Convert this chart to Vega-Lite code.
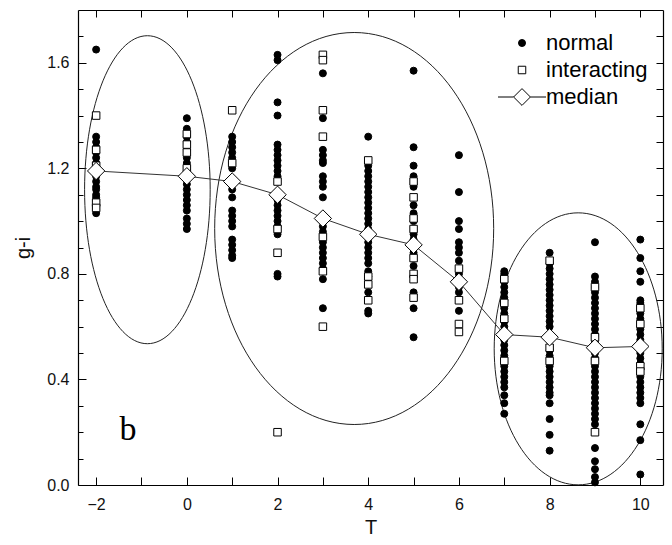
{
  "$schema": "https://vega.github.io/schema/vega-lite/v6.json",
  "width": 585,
  "height": 475,
  "autosize": {"type": "none"},
  "padding": {"left": 78, "top": 10, "right": 9, "bottom": 60},
  "background": "white",
  "config": {
    "view": {"stroke": null},
    "font": "Liberation Sans",
    "axis": {"grid": false, "domainColor": "black", "tickColor": "black", "labelColor": "#111", "titleColor": "#111", "labelFont": "Liberation Sans", "titleFont": "Liberation Sans", "labelFontSize": 16, "titleFontSize": 20, "titleFontWeight": "normal", "domainWidth": 1.2, "tickWidth": 1},
    "legend": {"orient": "none", "legendX": 433, "legendY": 22, "title": null, "labelFontSize": 22, "labelFont": "Liberation Sans", "labelColor": "black", "labelOffset": 13, "rowPadding": 5, "padding": 0, "symbolStrokeWidth": 1, "symbolStrokeColor": "black"}
  },
  "resolve": {"axis": {"x": "independent", "y": "independent"}},
  "datasets": {
    "ell": [
      {"T": -0.87, "g": 1.119, "id": "e1"},
      {"T": 3.69, "g": 0.972, "id": "e2"},
      {"T": 8.63, "g": 0.516, "id": "e3"}
    ],
    "med": [
      {"T": -2, "g": 1.19}, {"T": 0, "g": 1.17}, {"T": 1, "g": 1.15}, {"T": 2, "g": 1.10},
      {"T": 3, "g": 1.01}, {"T": 4, "g": 0.95}, {"T": 5, "g": 0.91}, {"T": 6, "g": 0.77},
      {"T": 7, "g": 0.57}, {"T": 8, "g": 0.56}, {"T": 9, "g": 0.52}, {"T": 10, "g": 0.525}
    ],
    "pts": [
      {"T":-2,"g":1.65,"t":"normal"},{"T":-2,"g":1.32,"t":"normal"},{"T":-2,"g":1.30,"t":"normal"},{"T":-2,"g":1.28,"t":"normal"},{"T":-2,"g":1.26,"t":"normal"},{"T":-2,"g":1.24,"t":"normal"},{"T":-2,"g":1.22,"t":"normal"},{"T":-2,"g":1.20,"t":"normal"},{"T":-2,"g":1.17,"t":"normal"},{"T":-2,"g":1.15,"t":"normal"},{"T":-2,"g":1.13,"t":"normal"},{"T":-2,"g":1.12,"t":"normal"},{"T":-2,"g":1.10,"t":"normal"},{"T":-2,"g":1.09,"t":"normal"},{"T":-2,"g":1.08,"t":"normal"},{"T":-2,"g":1.06,"t":"normal"},{"T":-2,"g":1.05,"t":"normal"},{"T":-2,"g":1.03,"t":"normal"},
      {"T":0,"g":1.39,"t":"normal"},{"T":0,"g":1.35,"t":"normal"},{"T":0,"g":1.32,"t":"normal"},{"T":0,"g":1.30,"t":"normal"},{"T":0,"g":1.27,"t":"normal"},{"T":0,"g":1.24,"t":"normal"},{"T":0,"g":1.22,"t":"normal"},{"T":0,"g":1.19,"t":"normal"},{"T":0,"g":1.14,"t":"normal"},{"T":0,"g":1.12,"t":"normal"},{"T":0,"g":1.10,"t":"normal"},{"T":0,"g":1.08,"t":"normal"},{"T":0,"g":1.06,"t":"normal"},{"T":0,"g":1.04,"t":"normal"},{"T":0,"g":1.01,"t":"normal"},{"T":0,"g":0.99,"t":"normal"},{"T":0,"g":0.97,"t":"normal"},
      {"T":1,"g":1.32,"t":"normal"},{"T":1,"g":1.30,"t":"normal"},{"T":1,"g":1.28,"t":"normal"},{"T":1,"g":1.26,"t":"normal"},{"T":1,"g":1.24,"t":"normal"},{"T":1,"g":1.22,"t":"normal"},{"T":1,"g":1.20,"t":"normal"},{"T":1,"g":1.12,"t":"normal"},{"T":1,"g":1.09,"t":"normal"},{"T":1,"g":1.04,"t":"normal"},{"T":1,"g":1.02,"t":"normal"},{"T":1,"g":1.00,"t":"normal"},{"T":1,"g":0.98,"t":"normal"},{"T":1,"g":0.93,"t":"normal"},{"T":1,"g":0.91,"t":"normal"},{"T":1,"g":0.89,"t":"normal"},{"T":1,"g":0.87,"t":"normal"},{"T":1,"g":0.86,"t":"normal"},
      {"T":2,"g":1.63,"t":"normal"},{"T":2,"g":1.61,"t":"normal"},{"T":2,"g":1.45,"t":"normal"},{"T":2,"g":1.40,"t":"normal"},{"T":2,"g":1.29,"t":"normal"},{"T":2,"g":1.27,"t":"normal"},{"T":2,"g":1.25,"t":"normal"},{"T":2,"g":1.23,"t":"normal"},{"T":2,"g":1.21,"t":"normal"},{"T":2,"g":1.19,"t":"normal"},{"T":2,"g":1.17,"t":"normal"},{"T":2,"g":1.08,"t":"normal"},{"T":2,"g":1.06,"t":"normal"},{"T":2,"g":1.04,"t":"normal"},{"T":2,"g":1.02,"t":"normal"},{"T":2,"g":1.00,"t":"normal"},{"T":2,"g":0.98,"t":"normal"},{"T":2,"g":0.95,"t":"normal"},{"T":2,"g":0.80,"t":"normal"},{"T":2,"g":0.79,"t":"normal"},
      {"T":3,"g":1.56,"t":"normal"},{"T":3,"g":1.39,"t":"normal"},{"T":3,"g":1.27,"t":"normal"},{"T":3,"g":1.25,"t":"normal"},{"T":3,"g":1.23,"t":"normal"},{"T":3,"g":1.22,"t":"normal"},{"T":3,"g":1.17,"t":"normal"},{"T":3,"g":1.15,"t":"normal"},{"T":3,"g":1.13,"t":"normal"},{"T":3,"g":1.09,"t":"normal"},{"T":3,"g":1.00,"t":"normal"},{"T":3,"g":0.98,"t":"normal"},{"T":3,"g":0.96,"t":"normal"},{"T":3,"g":0.92,"t":"normal"},{"T":3,"g":0.90,"t":"normal"},{"T":3,"g":0.88,"t":"normal"},{"T":3,"g":0.86,"t":"normal"},{"T":3,"g":0.84,"t":"normal"},{"T":3,"g":0.82,"t":"normal"},{"T":3,"g":0.78,"t":"normal"},{"T":3,"g":0.67,"t":"normal"},
      {"T":4,"g":1.32,"t":"normal"},{"T":4,"g":1.21,"t":"normal"},{"T":4,"g":1.19,"t":"normal"},{"T":4,"g":1.17,"t":"normal"},{"T":4,"g":1.15,"t":"normal"},{"T":4,"g":1.13,"t":"normal"},{"T":4,"g":1.11,"t":"normal"},{"T":4,"g":1.09,"t":"normal"},{"T":4,"g":1.07,"t":"normal"},{"T":4,"g":1.05,"t":"normal"},{"T":4,"g":1.03,"t":"normal"},{"T":4,"g":1.01,"t":"normal"},{"T":4,"g":0.99,"t":"normal"},{"T":4,"g":0.97,"t":"normal"},{"T":4,"g":0.92,"t":"normal"},{"T":4,"g":0.90,"t":"normal"},{"T":4,"g":0.88,"t":"normal"},{"T":4,"g":0.86,"t":"normal"},{"T":4,"g":0.84,"t":"normal"},{"T":4,"g":0.81,"t":"normal"},{"T":4,"g":0.79,"t":"normal"},{"T":4,"g":0.73,"t":"normal"},{"T":4,"g":0.66,"t":"normal"},{"T":4,"g":0.65,"t":"normal"},
      {"T":5,"g":1.57,"t":"normal"},{"T":5,"g":1.28,"t":"normal"},{"T":5,"g":1.21,"t":"normal"},{"T":5,"g":1.17,"t":"normal"},{"T":5,"g":1.13,"t":"normal"},{"T":5,"g":1.06,"t":"normal"},{"T":5,"g":1.03,"t":"normal"},{"T":5,"g":1.00,"t":"normal"},{"T":5,"g":0.95,"t":"normal"},{"T":5,"g":0.93,"t":"normal"},{"T":5,"g":0.88,"t":"normal"},{"T":5,"g":0.83,"t":"normal"},{"T":5,"g":0.79,"t":"normal"},{"T":5,"g":0.73,"t":"normal"},{"T":5,"g":0.67,"t":"normal"},{"T":5,"g":0.56,"t":"normal"},
      {"T":6,"g":1.25,"t":"normal"},{"T":6,"g":1.11,"t":"normal"},{"T":6,"g":1.00,"t":"normal"},{"T":6,"g":0.97,"t":"normal"},{"T":6,"g":0.92,"t":"normal"},{"T":6,"g":0.90,"t":"normal"},{"T":6,"g":0.88,"t":"normal"},{"T":6,"g":0.85,"t":"normal"},{"T":6,"g":0.80,"t":"normal"},{"T":6,"g":0.75,"t":"normal"},{"T":6,"g":0.73,"t":"normal"},{"T":6,"g":0.66,"t":"normal"},
      {"T":7,"g":0.81,"t":"normal"},{"T":7,"g":0.80,"t":"normal"},{"T":7,"g":0.79,"t":"normal"},{"T":7,"g":0.77,"t":"normal"},{"T":7,"g":0.75,"t":"normal"},{"T":7,"g":0.73,"t":"normal"},{"T":7,"g":0.71,"t":"normal"},{"T":7,"g":0.70,"t":"normal"},{"T":7,"g":0.67,"t":"normal"},{"T":7,"g":0.65,"t":"normal"},{"T":7,"g":0.62,"t":"normal"},{"T":7,"g":0.60,"t":"normal"},{"T":7,"g":0.58,"t":"normal"},{"T":7,"g":0.55,"t":"normal"},{"T":7,"g":0.53,"t":"normal"},{"T":7,"g":0.51,"t":"normal"},{"T":7,"g":0.49,"t":"normal"},{"T":7,"g":0.45,"t":"normal"},{"T":7,"g":0.43,"t":"normal"},{"T":7,"g":0.41,"t":"normal"},{"T":7,"g":0.39,"t":"normal"},{"T":7,"g":0.37,"t":"normal"},{"T":7,"g":0.34,"t":"normal"},{"T":7,"g":0.31,"t":"normal"},{"T":7,"g":0.27,"t":"normal"},
      {"T":8,"g":0.88,"t":"normal"},{"T":8,"g":0.84,"t":"normal"},{"T":8,"g":0.82,"t":"normal"},{"T":8,"g":0.80,"t":"normal"},{"T":8,"g":0.78,"t":"normal"},{"T":8,"g":0.76,"t":"normal"},{"T":8,"g":0.74,"t":"normal"},{"T":8,"g":0.72,"t":"normal"},{"T":8,"g":0.70,"t":"normal"},{"T":8,"g":0.68,"t":"normal"},{"T":8,"g":0.66,"t":"normal"},{"T":8,"g":0.64,"t":"normal"},{"T":8,"g":0.62,"t":"normal"},{"T":8,"g":0.60,"t":"normal"},{"T":8,"g":0.51,"t":"normal"},{"T":8,"g":0.49,"t":"normal"},{"T":8,"g":0.45,"t":"normal"},{"T":8,"g":0.43,"t":"normal"},{"T":8,"g":0.41,"t":"normal"},{"T":8,"g":0.39,"t":"normal"},{"T":8,"g":0.37,"t":"normal"},{"T":8,"g":0.35,"t":"normal"},{"T":8,"g":0.34,"t":"normal"},{"T":8,"g":0.31,"t":"normal"},{"T":8,"g":0.25,"t":"normal"},{"T":8,"g":0.19,"t":"normal"},{"T":8,"g":0.13,"t":"normal"},
      {"T":9,"g":0.92,"t":"normal"},{"T":9,"g":0.79,"t":"normal"},{"T":9,"g":0.77,"t":"normal"},{"T":9,"g":0.75,"t":"normal"},{"T":9,"g":0.73,"t":"normal"},{"T":9,"g":0.71,"t":"normal"},{"T":9,"g":0.69,"t":"normal"},{"T":9,"g":0.67,"t":"normal"},{"T":9,"g":0.65,"t":"normal"},{"T":9,"g":0.63,"t":"normal"},{"T":9,"g":0.61,"t":"normal"},{"T":9,"g":0.59,"t":"normal"},{"T":9,"g":0.57,"t":"normal"},{"T":9,"g":0.54,"t":"normal"},{"T":9,"g":0.50,"t":"normal"},{"T":9,"g":0.48,"t":"normal"},{"T":9,"g":0.45,"t":"normal"},{"T":9,"g":0.43,"t":"normal"},{"T":9,"g":0.41,"t":"normal"},{"T":9,"g":0.39,"t":"normal"},{"T":9,"g":0.37,"t":"normal"},{"T":9,"g":0.35,"t":"normal"},{"T":9,"g":0.33,"t":"normal"},{"T":9,"g":0.31,"t":"normal"},{"T":9,"g":0.29,"t":"normal"},{"T":9,"g":0.27,"t":"normal"},{"T":9,"g":0.25,"t":"normal"},{"T":9,"g":0.23,"t":"normal"},{"T":9,"g":0.14,"t":"normal"},{"T":9,"g":0.09,"t":"normal"},{"T":9,"g":0.06,"t":"normal"},{"T":9,"g":0.03,"t":"normal"},{"T":9,"g":0.01,"t":"normal"},
      {"T":10,"g":0.93,"t":"normal"},{"T":10,"g":0.86,"t":"normal"},{"T":10,"g":0.81,"t":"normal"},{"T":10,"g":0.77,"t":"normal"},{"T":10,"g":0.70,"t":"normal"},{"T":10,"g":0.69,"t":"normal"},{"T":10,"g":0.65,"t":"normal"},{"T":10,"g":0.63,"t":"normal"},{"T":10,"g":0.59,"t":"normal"},{"T":10,"g":0.57,"t":"normal"},{"T":10,"g":0.55,"t":"normal"},{"T":10,"g":0.50,"t":"normal"},{"T":10,"g":0.48,"t":"normal"},{"T":10,"g":0.46,"t":"normal"},{"T":10,"g":0.41,"t":"normal"},{"T":10,"g":0.39,"t":"normal"},{"T":10,"g":0.37,"t":"normal"},{"T":10,"g":0.35,"t":"normal"},{"T":10,"g":0.33,"t":"normal"},{"T":10,"g":0.31,"t":"normal"},{"T":10,"g":0.23,"t":"normal"},{"T":10,"g":0.17,"t":"normal"},{"T":10,"g":0.04,"t":"normal"},
      {"T":-2,"g":1.40,"t":"interacting"},{"T":-2,"g":1.27,"t":"interacting"},{"T":-2,"g":1.21,"t":"interacting"},{"T":-2,"g":1.07,"t":"interacting"},{"T":-2,"g":1.05,"t":"interacting"},
      {"T":0,"g":1.33,"t":"interacting"},{"T":0,"g":1.29,"t":"interacting"},{"T":0,"g":1.26,"t":"interacting"},{"T":0,"g":1.20,"t":"interacting"},
      {"T":1,"g":1.42,"t":"interacting"},{"T":1,"g":1.22,"t":"interacting"},
      {"T":2,"g":1.15,"t":"interacting"},{"T":2,"g":0.97,"t":"interacting"},{"T":2,"g":0.88,"t":"interacting"},{"T":2,"g":0.20,"t":"interacting"},
      {"T":3,"g":1.63,"t":"interacting"},{"T":3,"g":1.61,"t":"interacting"},{"T":3,"g":1.42,"t":"interacting"},{"T":3,"g":1.32,"t":"interacting"},{"T":3,"g":0.94,"t":"interacting"},{"T":3,"g":0.81,"t":"interacting"},{"T":3,"g":0.60,"t":"interacting"},
      {"T":4,"g":1.23,"t":"interacting"},{"T":4,"g":0.79,"t":"interacting"},{"T":4,"g":0.76,"t":"interacting"},{"T":4,"g":0.70,"t":"interacting"},
      {"T":5,"g":1.15,"t":"interacting"},{"T":5,"g":1.09,"t":"interacting"},{"T":5,"g":1.01,"t":"interacting"},{"T":5,"g":0.97,"t":"interacting"},{"T":5,"g":0.86,"t":"interacting"},{"T":5,"g":0.80,"t":"interacting"},{"T":5,"g":0.78,"t":"interacting"},{"T":5,"g":0.71,"t":"interacting"},
      {"T":6,"g":0.82,"t":"interacting"},{"T":6,"g":0.70,"t":"interacting"},{"T":6,"g":0.61,"t":"interacting"},{"T":6,"g":0.58,"t":"interacting"},
      {"T":7,"g":0.78,"t":"interacting"},{"T":7,"g":0.69,"t":"interacting"},{"T":7,"g":0.63,"t":"interacting"},{"T":7,"g":0.47,"t":"interacting"},
      {"T":8,"g":0.85,"t":"interacting"},{"T":8,"g":0.52,"t":"interacting"},{"T":8,"g":0.47,"t":"interacting"},
      {"T":9,"g":0.75,"t":"interacting"},{"T":9,"g":0.56,"t":"interacting"},{"T":9,"g":0.47,"t":"interacting"},{"T":9,"g":0.20,"t":"interacting"},
      {"T":10,"g":0.67,"t":"interacting"},{"T":10,"g":0.61,"t":"interacting"},{"T":10,"g":0.45,"t":"interacting"},{"T":10,"g":0.43,"t":"interacting"}
    ]
  },
  "layer": [
    {
      "data": {"name": "ell"},
      "transform": [{"filter": "datum.id == 'e1'"}],
      "mark": {"type": "point", "shape": "M0,-1.54C0.3468,-1.54,0.628,-0.8505,0.628,0C0.628,0.8505,0.3468,1.54,0,1.54C-0.3468,1.54,-0.628,0.8505,-0.628,0C-0.628,-0.8505,-0.3468,-1.54,0,-1.54Z", "size": 40000, "filled": false, "stroke": "#222", "strokeWidth": 1, "opacity": 1},
      "encoding": {
        "x": {"field": "T", "type": "quantitative", "scale": {"domain": [-2.4, 10.5], "nice": false, "zero": false}, "axis": null},
        "y": {"field": "g", "type": "quantitative", "scale": {"domain": [0, 1.8], "nice": false, "zero": false}, "axis": null}
      }
    },
    {
      "data": {"name": "ell"},
      "transform": [{"filter": "datum.id == 'e2'"}],
      "mark": {"type": "point", "shape": "M0,-1.96C0.7705,-1.96,1.395,-1.0825,1.395,0C1.395,1.0825,0.7705,1.96,0,1.96C-0.7705,1.96,-1.395,1.0825,-1.395,0C-1.395,-1.0825,-0.7705,-1.96,0,-1.96Z", "size": 40000, "filled": false, "stroke": "#222", "strokeWidth": 1, "opacity": 1},
      "encoding": {
        "x": {"field": "T", "type": "quantitative", "scale": {"domain": [-2.4, 10.5], "nice": false, "zero": false}, "axis": null},
        "y": {"field": "g", "type": "quantitative", "scale": {"domain": [0, 1.8], "nice": false, "zero": false}, "axis": null}
      }
    },
    {
      "data": {"name": "ell"},
      "transform": [{"filter": "datum.id == 'e3'"}],
      "mark": {"type": "point", "shape": "M0,-1.36C0.4639,-1.36,0.84,-0.7511,0.84,0C0.84,0.7511,0.4639,1.36,0,1.36C-0.4639,1.36,-0.84,0.7511,-0.84,0C-0.84,-0.7511,-0.4639,-1.36,0,-1.36Z", "size": 40000, "filled": false, "stroke": "#222", "strokeWidth": 1, "opacity": 1},
      "encoding": {
        "x": {"field": "T", "type": "quantitative", "scale": {"domain": [-2.4, 10.5], "nice": false, "zero": false}, "axis": null},
        "y": {"field": "g", "type": "quantitative", "scale": {"domain": [0, 1.8], "nice": false, "zero": false}, "axis": null}
      }
    },
    {
      "data": {"name": "pts"},
      "mark": {"type": "point", "filled": true, "strokeWidth": 1, "opacity": 1},
      "encoding": {
        "x": {"field": "T", "type": "quantitative", "scale": {"domain": [-2.4, 10.5], "nice": false, "zero": false},
              "axis": {"orient": "bottom", "values": [-2,-1,0,1,2,3,4,5,6,7,8,9,10], "labelExpr": "datum.value % 2 == 0 ? datum.label : ''", "tickSize": -8, "labelPadding": 19, "title": "T", "titlePadding": 5, "labelFlush": false, "labelOverlap": false}},
        "y": {"field": "g", "type": "quantitative", "scale": {"domain": [0, 1.8], "nice": false, "zero": false},
              "axis": {"orient": "left", "values": [0, 0.4, 0.8, 1.2, 1.6], "format": ".1f", "tickSize": -8, "labelPadding": 17, "title": "g-i", "titlePadding": 13, "labelFlush": false, "labelOverlap": false}},
        "shape": {"field": "t", "type": "nominal",
                  "scale": {"domain": ["normal", "interacting", "median"], "range": ["circle", "square", "M-6,0L-2.1,0M2.1,0L6,0M-2.1,0L0,-2.1L2.1,0L0,2.1Z"]}},
        "fill": {"field": "t", "type": "nominal",
                 "scale": {"domain": ["normal", "interacting", "median"], "range": ["black", "white", "white"]}},
        "stroke": {"field": "t", "type": "nominal",
                   "scale": {"domain": ["normal", "interacting", "median"], "range": ["black", "black", "black"]}},
        "size": {"field": "t", "type": "nominal",
                 "scale": {"domain": ["normal", "interacting", "median"], "range": [49, 64, 64]}}
      }
    },
    {
      "data": {"name": "med"},
      "mark": {"type": "line", "stroke": "#333", "strokeWidth": 1},
      "encoding": {
        "x": {"field": "T", "type": "quantitative", "scale": {"domain": [-2.4, 10.5], "nice": false, "zero": false},
              "axis": {"orient": "top", "values": [-2,-1,0,1,2,3,4,5,6,7,8,9,10], "tickSize": -7, "labels": false, "title": null}},
        "y": {"field": "g", "type": "quantitative", "scale": {"domain": [0, 1.8], "nice": false, "zero": false},
              "axis": {"orient": "left", "values": [0.1,0.2,0.3,0.5,0.6,0.7,0.9,1.0,1.1,1.3,1.4,1.5,1.7], "tickSize": -5, "labels": false, "domain": false, "title": null}}
      }
    },
    {
      "data": {"name": "med"},
      "mark": {"type": "point", "shape": "diamond", "size": 300, "filled": true, "fill": "white", "stroke": "black", "strokeWidth": 1, "opacity": 1},
      "encoding": {
        "x": {"field": "T", "type": "quantitative", "scale": {"domain": [-2.4, 10.5], "nice": false, "zero": false}, "axis": null},
        "y": {"field": "g", "type": "quantitative", "scale": {"domain": [0, 1.8], "nice": false, "zero": false},
              "axis": {"orient": "right", "values": [0.1,0.2,0.3,0.4,0.5,0.6,0.7,0.8,0.9,1.0,1.1,1.2,1.3,1.4,1.5,1.6,1.7], "tickSize": -7, "labels": false, "title": null}}
      }
    },
    {
      "data": {"values": [{"T": -1.3, "g": 0.17, "label": "b"}]},
      "mark": {"type": "text", "font": "Liberation Serif", "fontSize": 34, "align": "center", "baseline": "alphabetic", "color": "black"},
      "encoding": {
        "x": {"field": "T", "type": "quantitative", "scale": {"domain": [-2.4, 10.5], "nice": false, "zero": false}, "axis": null},
        "y": {"field": "g", "type": "quantitative", "scale": {"domain": [0, 1.8], "nice": false, "zero": false}, "axis": null},
        "text": {"field": "label"}
      }
    }
  ]
}
